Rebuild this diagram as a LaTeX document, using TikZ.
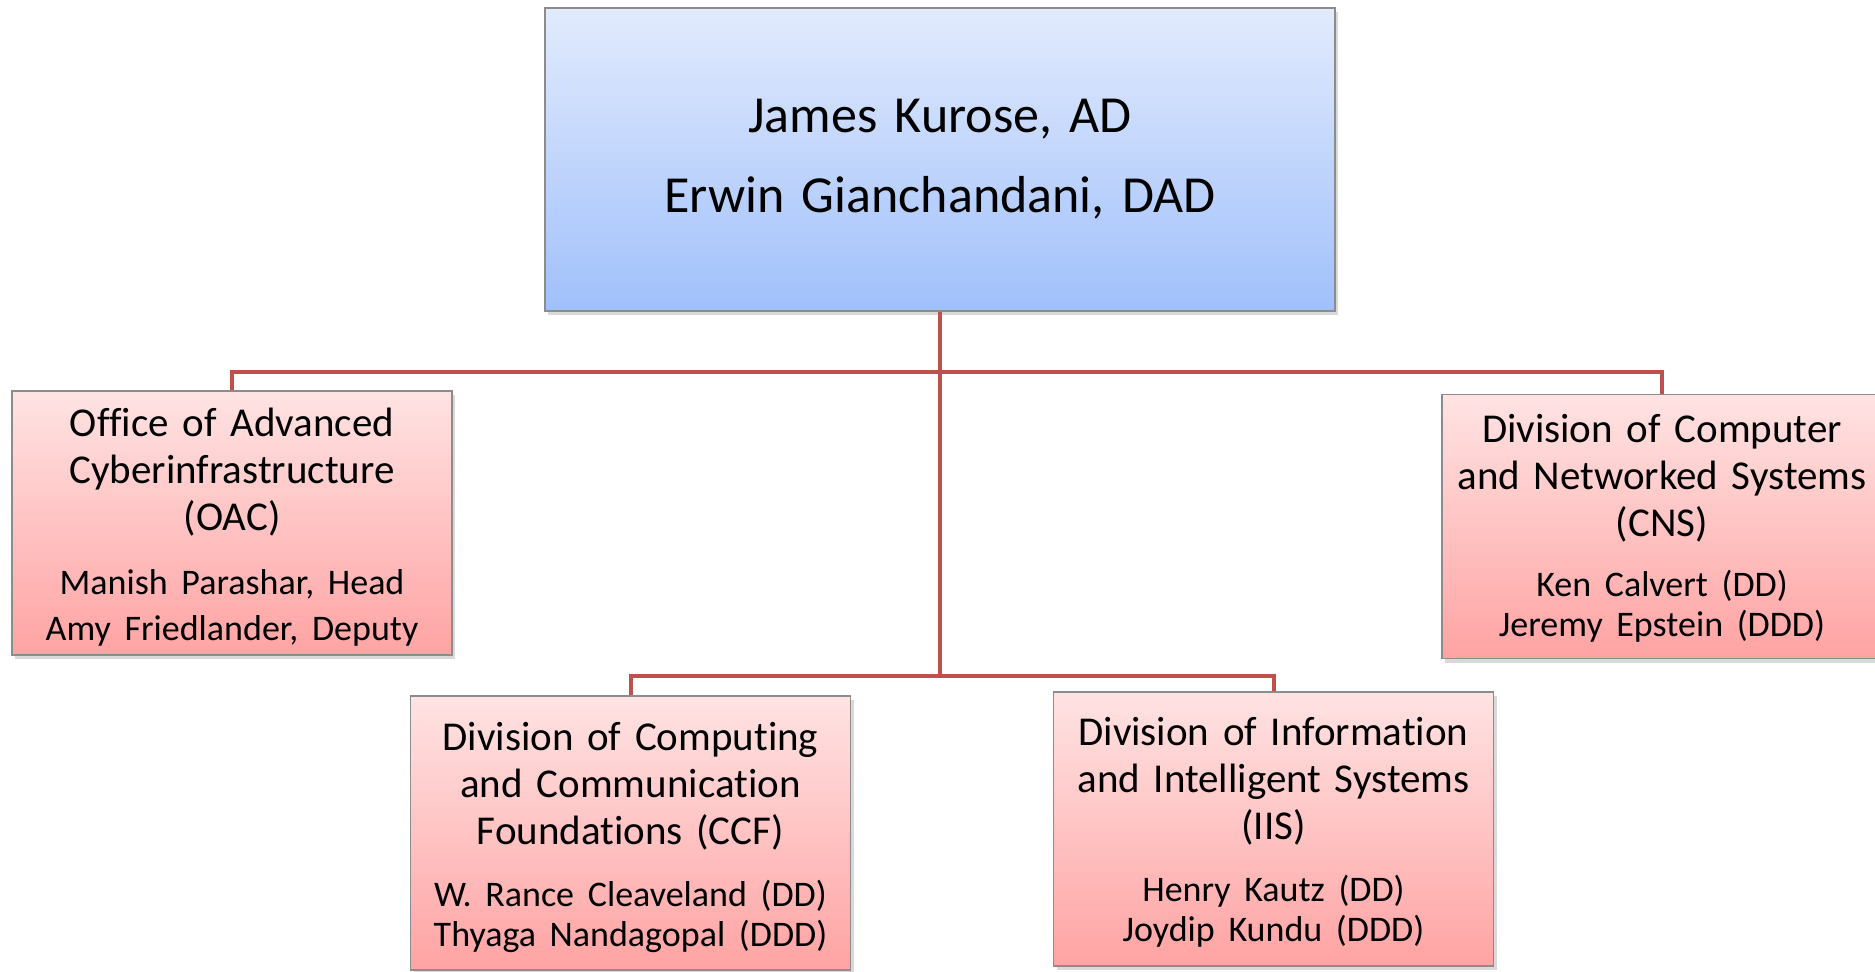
\documentclass[tikz,border=0pt]{standalone}
\usepackage{fontspec}
\setmainfont{Carlito}[WordSpace=0.85, Ligatures=NoCommon]
\usepackage{xcolor}
\usetikzlibrary{shadows}
\definecolor{linkred}{RGB}{192,80,77}
\definecolor{boxgray}{RGB}{140,140,140}
\definecolor{blueTop}{RGB}{226,235,253}
\definecolor{blueBot}{RGB}{160,192,251}
\definecolor{pinkTop}{RGB}{255,227,227}
\definecolor{pinkBot}{RGB}{255,163,163}
\newcommand{\namefont}[1][20]{\fontsize{18}{#1}\selectfont}

\begin{document}
\begin{tikzpicture}[x=0.5pt, y=-0.5pt,
      head/.style={draw=boxgray, line width=0.6pt, top color=blueTop, bottom color=blueBot,
                   minimum width=395pt, minimum height=151.5pt, text width=385pt,
                   align=center, font=\fontsize{26}{40}\selectfont,
                   drop shadow={shadow xshift=1.5pt, shadow yshift=-2pt, opacity=0.3}},
      div/.style={draw=boxgray, line width=0.6pt, top color=pinkTop, bottom color=pinkBot,
                  text width=214pt, inner xsep=3pt, align=center,
                  font=\fontsize{20.5}{23.5}\selectfont,
                  drop shadow={shadow xshift=1.5pt, shadow yshift=-2pt, opacity=0.3}},
      link/.style={draw=linkred, line width=2pt}]
    \useasboundingbox (0,0) rectangle (1875,971);
    \node[head] (ad) at (940,159.5) {James Kurose, AD\\Erwin Gianchandani, DAD};
    \node[div, minimum height=132pt] (oac) at (232,523)
      {\rule{0pt}{18pt}Office of Advanced\\Cyberinfrastructure\\(OAC)\par\vspace{9pt}
       {\namefont[23] Manish Parashar, Head\\Amy Friedlander, Deputy\par}};
    \node[div, minimum height=132pt] (cns) at (1662,526.5)
      {\rule{0pt}{15.8pt}Division of Computer\\and Networked Systems\\(CNS)\par\vspace{9.8pt}
       {\namefont Ken Calvert (DD)\\Jeremy Epstein (DDD)\par}};
    \node[div, minimum height=137pt] (ccf) at (630.5,833)
      {\rule{0pt}{18.3pt}Division of Computing\\and Communication\\Foundations (CCF)\par\vspace{11pt}
       {\namefont W. Rance Cleaveland (DD)\\Thyaga Nandagopal (DDD)\par}};
    \node[div, minimum height=137pt] (iis) at (1273.5,829)
      {\rule{0pt}{17.7pt}Division of Information\\and Intelligent Systems\\(IIS)\par\vspace{11pt}
       {\namefont Henry Kautz (DD)\\Joydip Kundu (DDD)\par}};
    % bus lines under the AD box
    \coordinate (topbus) at (940,372);
    \coordinate (lowbus) at (940,676);
    \draw[link] (ad.south) -- (lowbus);
    \draw[link] (oac.north) |- (topbus) -| (cns.north);
    \draw[link] (ccf.north) |- (lowbus) -| (iis.north);
  \end{tikzpicture}
\end{document}
